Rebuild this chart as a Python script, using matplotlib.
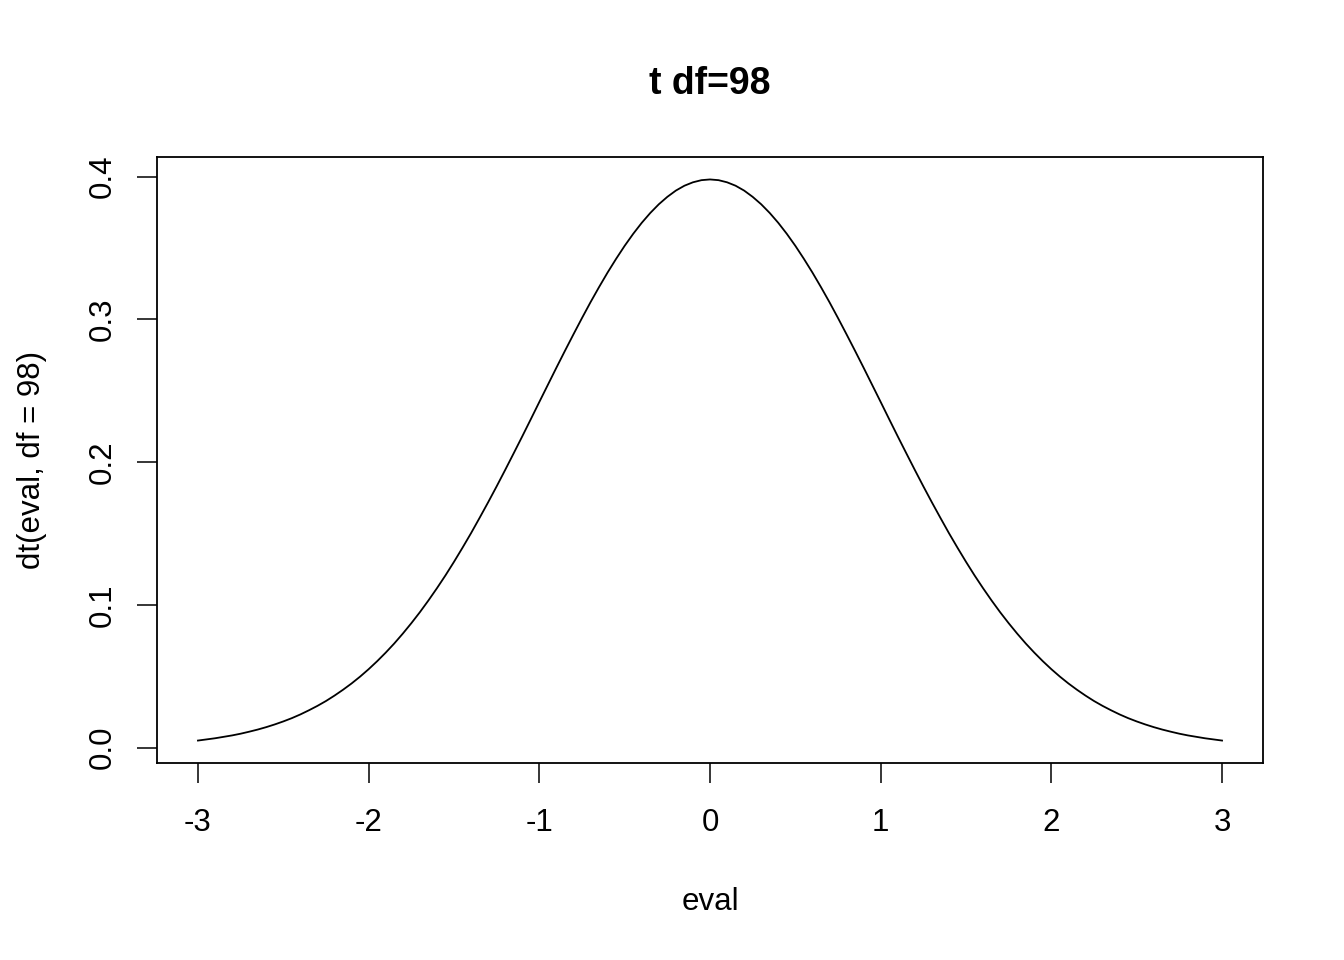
import matplotlib.pyplot as plt
import numpy as np

plt.rcParams['font.family'] = ['Liberation Sans', 'DejaVu Sans']

# density values, x from -3 to 3 in steps of 0.05
x_vals = np.round(np.arange(-3.0, 3.001, 0.05), 2)
right_half = [0.3980, 0.3975, 0.3960, 0.3936, 0.3902, 0.3858, 0.3806, 0.3745,
              0.3676, 0.3599, 0.3515, 0.3424, 0.3328, 0.3226, 0.3120, 0.3009,
              0.2895, 0.2779, 0.2661, 0.2541, 0.2421, 0.2300, 0.2180, 0.2062,
              0.1945, 0.1830, 0.1718, 0.1609, 0.1502, 0.1400, 0.1301, 0.1206,
              0.1116, 0.1030, 0.0948, 0.0871, 0.0798, 0.0729, 0.0665, 0.0605,
              0.0549, 0.0497, 0.0449, 0.0405, 0.0364, 0.0326, 0.0292, 0.0261,
              0.0232, 0.0206, 0.0183, 0.0162, 0.0143, 0.0126, 0.0111, 0.0097,
              0.0085, 0.0075, 0.0065, 0.0057, 0.0049]
density = right_half[:0:-1] + right_half

x_ticks = [-3, -2, -1, 0, 1, 2, 3]
y_ticks = [0.0, 0.1, 0.2, 0.3, 0.4]
y_tick_labels = ['0.0', '0.1', '0.2', '0.3', '0.4']

fig = plt.figure(figsize=(13.44, 9.6), dpi=100)
ax = fig.add_axes([157 / 1344, 1 - 763 / 960, 1106 / 1344, 606 / 960])

ax.plot(x_vals, density, color='black', linewidth=1.3)

xr = max(x_vals) - min(x_vals)
yr = max(density) - min(density)
ax.set_xlim(min(x_vals) - 0.04 * xr, max(x_vals) + 0.04 * xr)
ax.set_ylim(min(density) - 0.04 * yr, max(density) + 0.04 * yr)

ax.set_xticks(x_ticks)
ax.set_xticklabels([str(t) for t in x_ticks])
ax.set_yticks(y_ticks)
ax.set_yticklabels(y_tick_labels, rotation=90, va='center')
ax.tick_params(direction='out', length=14.4, width=1.1, labelsize=22.5, pad=18)
ax.tick_params(axis='y', pad=14)
for s in ax.spines.values():
    s.set_linewidth(1.3)

ax.set_xlabel('eval', fontsize=22.5, labelpad=35)
ax.set_ylabel('dt(eval, df = 98)', fontsize=22.5, labelpad=29)
ax.set_title('t df=98', fontsize=27, fontweight='bold', pad=45)

plt.savefig('out.png', dpi=100, facecolor='white')
